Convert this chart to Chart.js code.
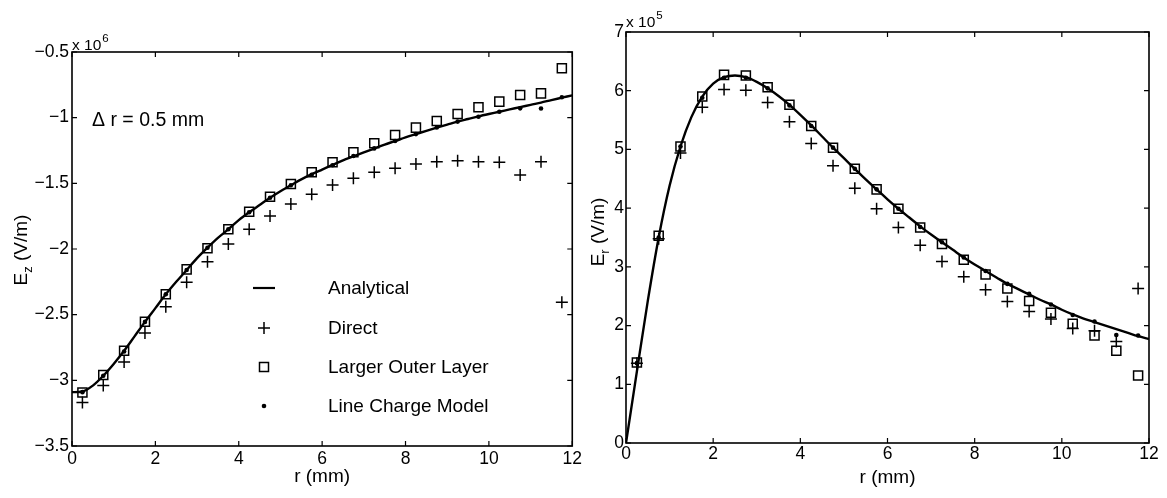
<!DOCTYPE html>
<html>
<head>
<meta charset="utf-8">
<script src="https://cdn.jsdelivr.net/npm/chart.js@4.4.0/dist/chart.umd.min.js"></script>
<style>
  html, body { margin: 0; padding: 0; background: #fff; }
  #wrap { position: relative; width: 1167px; height: 498px; }
  .box { position: absolute; top: 0; height: 498px; }
  #left { left: 0; width: 585px; }
  #right { left: 585px; width: 582px; }
</style>
</head>
<body>
<div id="wrap">
  <div class="box" id="left"><canvas id="chart-ez"></canvas></div>
  <div class="box" id="right"><canvas id="chart-er"></canvas></div>
</div>
<script>
// r (mm) where the numerical models were sampled
const rSamples = [0.25, 0.75, 1.25, 1.75, 2.25, 2.75, 3.25, 3.75, 4.25, 4.75, 5.25, 5.75,
  6.25, 6.75, 7.25, 7.75, 8.25, 8.75, 9.25, 9.75, 10.25, 10.75, 11.25, 11.75];
// r (mm)
const rCurve = [0, 0.25, 0.5, 0.75, 1, 1.25, 1.5, 1.75, 2, 2.25, 2.5, 2.75, 3, 3.25, 3.5, 3.75,
  4, 4.25, 4.5, 4.75, 5, 5.25, 5.5, 5.75, 6, 6.25, 6.5, 6.75, 7, 7.25, 7.5, 7.75,
  8, 8.25, 8.5, 8.75, 9, 9.25, 9.5, 9.75, 10, 10.25, 10.5, 10.75, 11, 11.25, 11.5, 11.75, 12];

// Ez, units of 1e6 V/m
const ezAnalytical = [-3.09, -3.085, -3.04, -2.965, -2.875, -2.775, -2.665, -2.555, -2.45, -2.345,
  -2.25, -2.16, -2.07, -1.99, -1.915, -1.85, -1.78, -1.72, -1.665, -1.61, -1.56, -1.515, -1.47,
  -1.43, -1.395, -1.36, -1.325, -1.295, -1.265, -1.235, -1.205, -1.178, -1.15, -1.125, -1.1,
  -1.076, -1.053, -1.03, -1.01, -0.99, -0.972, -0.955, -0.937, -0.92, -0.902, -0.885, -0.866,
  -0.848, -0.83];
const ezDirect = [-3.168, -3.04, -2.86, -2.64, -2.44, -2.254, -2.097, -1.962, -1.85, -1.749,
  -1.658, -1.584, -1.513, -1.462, -1.416, -1.386, -1.353, -1.335, -1.328, -1.335, -1.34,
  -1.437, -1.335, -2.406];
const ezOuterLayer = [-3.092, -2.96, -2.775, -2.554, -2.345, -2.155, -1.995, -1.85, -1.716,
  -1.602, -1.505, -1.416, -1.34, -1.264, -1.195, -1.132, -1.076, -1.025, -0.972, -0.921,
  -0.878, -0.827, -0.815, -0.624];
const ezLineCharge = [-3.09, -2.965, -2.78, -2.555, -2.345, -2.16, -1.99, -1.85, -1.72, -1.61,
  -1.515, -1.435, -1.362, -1.292, -1.234, -1.178, -1.125, -1.074, -1.03, -0.993, -0.955,
  -0.929, -0.93, -0.845];

// Er, units of 1e5 V/m
const erAnalytical = [0, 1.22, 2.42, 3.5, 4.38, 5.05, 5.55, 5.9, 6.12, 6.23, 6.26, 6.23, 6.15,
  6.04, 5.91, 5.76, 5.59, 5.41, 5.22, 5.03, 4.85, 4.67, 4.49, 4.32, 4.15, 3.99, 3.84, 3.69,
  3.55, 3.42, 3.29, 3.16, 3.04, 2.93, 2.82, 2.71, 2.62, 2.53, 2.44, 2.36, 2.27, 2.19, 2.12,
  2.06, 2.0, 1.94, 1.88, 1.82, 1.77];
const erDirect = [1.36, 3.48, 4.94, 5.72, 6.02, 6.01, 5.8, 5.47, 5.1, 4.72, 4.34, 3.99, 3.67,
  3.37, 3.09, 2.83, 2.61, 2.41, 2.24, 2.11, 1.95, 1.91, 1.73, 2.63];
const erOuterLayer = [1.37, 3.53, 5.05, 5.9, 6.27, 6.26, 6.06, 5.76, 5.4, 5.03, 4.67, 4.32,
  3.99, 3.67, 3.39, 3.12, 2.87, 2.63, 2.42, 2.22, 2.03, 1.83, 1.57, 1.15];
const erLineCharge = [1.36, 3.5, 5.05, 5.88, 6.22, 6.22, 6.04, 5.75, 5.4, 5.03, 4.67, 4.32,
  3.99, 3.68, 3.42, 3.16, 2.93, 2.71, 2.54, 2.36, 2.18, 2.07, 1.84, 1.83];

const seriesNames = ["Analytical", "Direct", "Larger Outer Layer", "Line Charge Model"];
const xTicks = [0, 2, 4, 6, 8, 10, 12];

const FONT = "'Liberation Sans', Arial, Helvetica, sans-serif";
const pts = (xs, ys) => xs.map((x, i) => ({ x, y: ys[i] }));
const minus = (v) => String(Math.round(v * 10) / 10).replace("-", "\u2212");

function makeDatasets(curve, direct, outer, line) {
  return [
    {
      label: seriesNames[0], data: pts(rCurve, curve), showLine: true,
      borderColor: "#000", borderWidth: 2.4, pointRadius: 0,
      cubicInterpolationMode: "monotone",
    },
    {
      label: seriesNames[1], data: pts(rSamples, direct), showLine: false,
      pointStyle: "cross", pointRadius: 6, borderColor: "#000", pointBorderWidth: 1.5,
    },
    {
      label: seriesNames[2], data: pts(rSamples, outer), showLine: false,
      pointStyle: "rect", pointRadius: 6.4, borderColor: "#000",
      backgroundColor: "rgba(0,0,0,0)", pointBorderWidth: 1.5,
    },
    {
      label: seriesNames[3], data: pts(rSamples, line), showLine: false,
      pointStyle: "circle", pointRadius: 2.3, borderColor: "#000",
      backgroundColor: "#000", pointBorderWidth: 0,
    },
  ];
}

// MATLAB-like box with inward ticks, plus the extra texts
const decor = {
  id: "decor",
  afterDraw(chart, args, o) {
    const { ctx, chartArea: a, scales } = chart;
    ctx.save();
    ctx.strokeStyle = "#000";
    ctx.lineWidth = 1.2;
    ctx.beginPath();
    scales.x.ticks.forEach((t) => {
      const px = scales.x.getPixelForValue(t.value);
      ctx.moveTo(px, a.bottom); ctx.lineTo(px, a.bottom - 5);
      ctx.moveTo(px, a.top); ctx.lineTo(px, a.top + 5);
    });
    scales.y.ticks.forEach((t) => {
      const py = scales.y.getPixelForValue(t.value);
      ctx.moveTo(a.left, py); ctx.lineTo(a.left + 5, py);
      ctx.moveTo(a.right, py); ctx.lineTo(a.right - 5, py);
    });
    ctx.stroke();
    ctx.lineWidth = 1.6;
    ctx.strokeRect(a.left, a.top, a.right - a.left, a.bottom - a.top);

    ctx.fillStyle = "#000";
    ctx.textBaseline = "alphabetic";
    ctx.textAlign = "left";
    // exponent multiplier
    ctx.font = "15.5px " + FONT;
    ctx.fillText("x 10", a.left, a.top + o.expDy);
    const w10 = ctx.measureText("x 10").width;
    ctx.font = "11.5px " + FONT;
    ctx.fillText(o.exp, a.left + w10 + 1, a.top + o.expDy - 8);

    // rotated y title with subscript
    ctx.save();
    ctx.translate(o.titleX, o.titleY);
    ctx.rotate(-Math.PI / 2);
    ctx.font = "19px " + FONT;
    const wE = ctx.measureText("E").width;
    const wRest = ctx.measureText(" (V/m)").width;
    ctx.font = "13px " + FONT;
    const wSub = ctx.measureText(o.sub).width;
    let x = -(wE + wSub + wRest) / 2;
    ctx.font = "19px " + FONT;
    ctx.fillText("E", x, 0);
    x += wE;
    ctx.font = "13px " + FONT;
    ctx.fillText(o.sub, x, 5);
    x += wSub;
    ctx.font = "19px " + FONT;
    ctx.fillText(" (V/m)", x, 0);
    ctx.restore();

    if (o.legend) {
      ctx.textBaseline = "middle";
      ctx.font = "19.5px " + FONT;
      ctx.fillText("\u0394 r = 0.5 mm", a.left + 20, a.top + 69);
      ctx.font = "19px " + FONT;
      const sx = a.left + 192, tx = a.left + 256;
      const rows = [a.top + 236, a.top + 276, a.top + 315, a.top + 354];
      ctx.lineWidth = 2.2;
      ctx.beginPath();
      ctx.moveTo(sx - 11, rows[0]); ctx.lineTo(sx + 11, rows[0]);
      ctx.stroke();
      ctx.lineWidth = 1.5;
      ctx.beginPath();
      ctx.moveTo(sx - 6, rows[1]); ctx.lineTo(sx + 6, rows[1]);
      ctx.moveTo(sx, rows[1] - 6); ctx.lineTo(sx, rows[1] + 6);
      ctx.stroke();
      ctx.strokeRect(sx - 4.5, rows[2] - 4.5, 9, 9);
      ctx.beginPath();
      ctx.arc(sx, rows[3], 2.3, 0, Math.PI * 2);
      ctx.fill();
      seriesNames.forEach((n, i) => ctx.fillText(n, tx, rows[i] + 1));
    }
    ctx.restore();
  },
};

function makeChart(id, datasets, yMin, yMax, yStep, layout, deco) {
  return new Chart(document.getElementById(id), {
    type: "scatter",
    data: { datasets },
    plugins: [decor],
    options: {
      responsive: true,
      maintainAspectRatio: false,
      animation: false,
      events: [],
      layout: { padding: layout.padding },
      plugins: { legend: { display: false }, tooltip: { enabled: false }, decor: deco },
      scales: {
        x: {
          type: "linear", min: 0, max: 12,
          afterBuildTicks: (s) => { s.ticks = xTicks.map((v) => ({ value: v })); },
          grid: { display: false, drawTicks: false },
          border: { display: false },
          ticks: { color: "#000", padding: layout.xPad, font: { family: FONT, size: 17.5 } },
          title: {
            display: true, text: "r (mm)", color: "#000",
            font: { family: FONT, size: 19 }, padding: { top: 0, bottom: layout.titlePad },
          },
          afterFit: (s) => { s.height = layout.xHeight; },
        },
        y: {
          type: "linear", min: yMin, max: yMax,
          grid: { display: false, drawTicks: false },
          border: { display: false },
          ticks: {
            stepSize: yStep, color: "#000", padding: layout.yPad,
            font: { family: FONT, size: 17.5 }, callback: (v) => minus(v),
          },
          afterFit: (s) => { s.width = layout.yWidth; },
        },
      },
    },
  });
}

makeChart("chart-ez", makeDatasets(ezAnalytical, ezDirect, ezOuterLayer, ezLineCharge),
  -3.5, -0.5, 0.5,
  { padding: { left: 0, right: 12, top: 52, bottom: 0 }, xHeight: 52, yWidth: 72,
    xPad: 3, yPad: 3, titlePad: 10 },
  { exp: "6", expDy: -2, sub: "z", titleX: 27, titleY: 250, legend: true });

makeChart("chart-er", makeDatasets(erAnalytical, erDirect, erOuterLayer, erLineCharge),
  0, 7, 1,
  { padding: { left: 0, right: 18, top: 32, bottom: 0 }, xHeight: 55, yWidth: 41,
    xPad: 1, yPad: 2, titlePad: 9 },
  { exp: "5", expDy: -5, sub: "r", titleX: 19, titleY: 232, legend: false });
</script>
</body>
</html>
